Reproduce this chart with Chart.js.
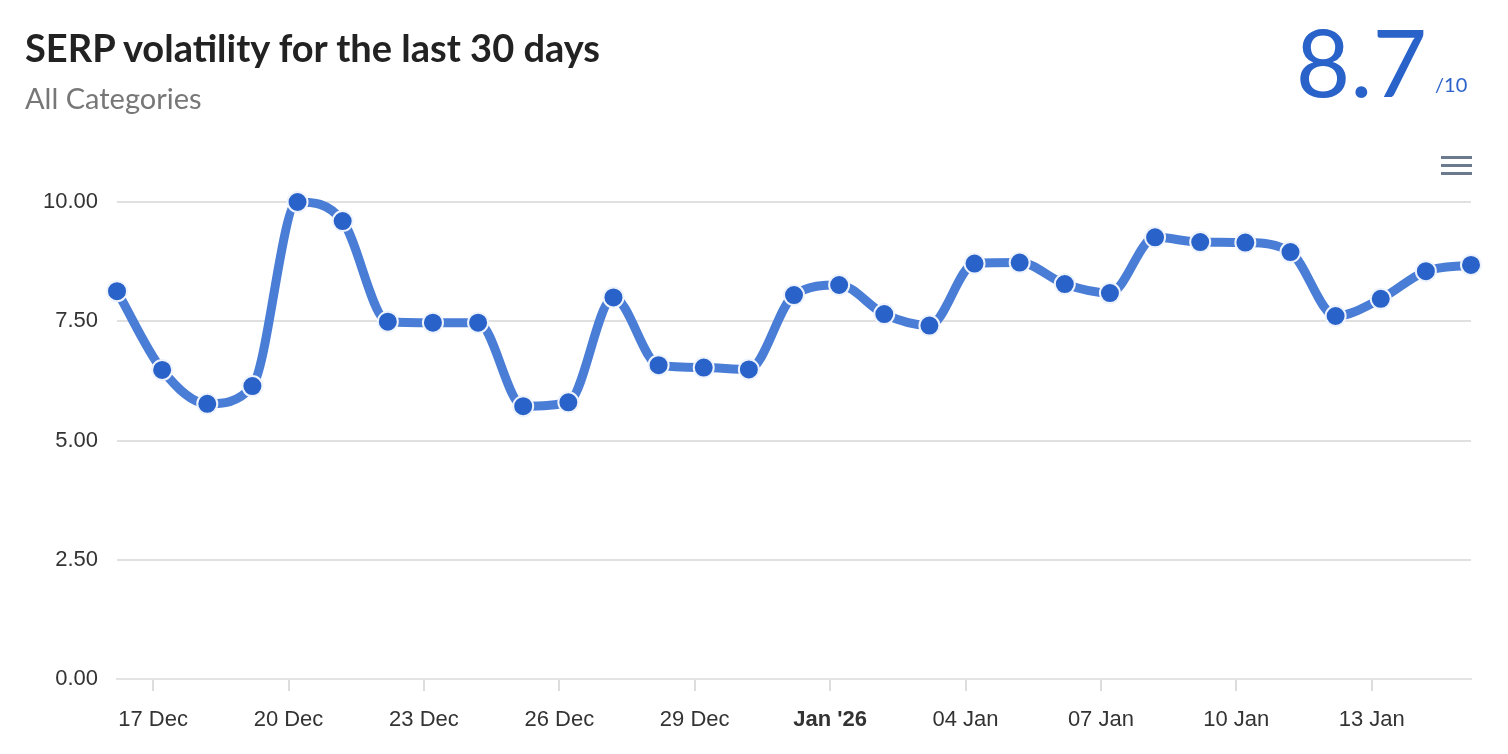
<!DOCTYPE html>
<html>
<head>
<meta charset="utf-8">
<script src="https://cdn.jsdelivr.net/npm/chart.js@4"></script>
<style>
  html, body { margin:0; padding:0; background:#fff; width:1508px; height:754px; overflow:hidden; }
  #wrap { position:relative; width:1508px; height:754px; }
  canvas { position:absolute; left:0; top:0; }
  .title { position:absolute; left:25px; top:28px; font-family:Lato, "Open Sans", sans-serif; font-weight:700; font-size:38px; color:#222; line-height:1; white-space:nowrap; }
  .sub { position:absolute; left:25px; top:83px; font-family:Lato, "Open Sans", sans-serif; font-weight:400; font-size:29px; color:#777; line-height:1; white-space:nowrap; }
  .score { position:absolute; right:81px; top:14px; font-family:Lato, "Open Sans", sans-serif; font-weight:400; font-size:94px; color:#2962c9; line-height:1; }
  .of { position:absolute; left:1435px; top:74px; font-family:Lato, "Open Sans", sans-serif; font-weight:400; font-size:20px; color:#2962c9; line-height:1; }
  .menu { position:absolute; left:1441px; width:31px; height:3px; background:#6b7a8f; }
</style>
</head>
<body>
<div id="wrap">
  <canvas id="c" width="1508" height="754"></canvas>
  <div class="title">SERP volatility for the last 30 days</div>
  <div class="sub">All Categories</div>
  <div class="score">8.7</div>
  <div class="of">/10</div>
  <div class="menu" style="top:156px"></div>
  <div class="menu" style="top:164px"></div>
  <div class="menu" style="top:172px"></div>
</div>
<script>
// Data
const categories = ['16 Dec','17 Dec','18 Dec','19 Dec','20 Dec','21 Dec','22 Dec','23 Dec','24 Dec','25 Dec','26 Dec','27 Dec','28 Dec','29 Dec','30 Dec','31 Dec','01 Jan','02 Jan','03 Jan','04 Jan','05 Jan','06 Jan','07 Jan','08 Jan','09 Jan','10 Jan','11 Jan','12 Jan','13 Jan','14 Jan','15 Jan'];
const volatility = [8.13,6.48,5.77,6.14,10.0,9.60,7.49,7.47,7.47,5.72,5.80,8.00,6.58,6.53,6.49,8.05,8.26,7.65,7.41,8.71,8.73,8.28,8.09,9.26,9.16,9.15,8.95,7.61,7.97,8.55,8.68];
const tickDays = [1,4,7,10,13,16,19,22,25,28];
const tickLabels = ['17 Dec','20 Dec','23 Dec','26 Dec','29 Dec',"Jan '26",'04 Jan','07 Jan','10 Jan','13 Jan'];
const boldTick = 16;
const yTicks = [0,2.5,5,7.5,10];
const pointTimeOffset = 0.2; // measurements taken ~0.2 day after midnight

const points = categories.map((c,i) => ({ x: i + pointTimeOffset, y: volatility[i] }));
const font = 'Liberation Sans, Arial, Helvetica, sans-serif';

new Chart(document.getElementById('c'), {
  type: 'line',
  data: {
    datasets: [{
      data: points,
      borderColor: '#4a7dd6',
      borderWidth: 9,
      cubicInterpolationMode: 'monotone',
      pointRadius: 10,
      pointHoverRadius: 10,
      pointBackgroundColor: '#2962c9',
      pointBorderColor: '#eef3fc',
      pointBorderWidth: 2,
      clip: false
    }]
  },
  options: {
    responsive: false,
    animation: false,
    events: [],
    layout: { padding: { top: 202, right: 37, left: 0, bottom: 0 } },
    plugins: { legend: { display: false }, tooltip: { enabled: false } },
    scales: {
      x: {
        type: 'linear',
        min: pointTimeOffset,
        max: categories.length - 1 + pointTimeOffset,
        afterBuildTicks: s => { s.ticks = tickDays.map(v => ({ value: v })); },
        afterFit: s => { s.height = 75; },
        grid: { drawOnChartArea: false, drawTicks: true, tickLength: 12, color: '#dddddd', lineWidth: 2 },
        border: { display: true, color: '#e3e3e3', width: 2 },
        ticks: {
          autoSkip: false,
          maxRotation: 0,
          padding: 16,
          color: '#333',
          font: ctx => ({ family: font, size: 22, weight: (ctx.tick && ctx.tick.value === boldTick) ? 'bold' : 'normal' }),
          callback: v => { const k = tickDays.indexOf(v); return k >= 0 ? tickLabels[k] : ''; }
        }
      },
      y: {
        min: 0,
        max: 10,
        afterBuildTicks: s => { s.ticks = yTicks.map(v => ({ value: v })); },
        afterFit: s => { s.width = 117; },
        grid: { drawTicks: false, color: ctx => ctx.tick && ctx.tick.value === 0 ? 'rgba(0,0,0,0)' : '#e0e0e0', lineWidth: 2 },
        border: { display: false },
        ticks: {
          padding: 19,
          color: '#333',
          font: { family: font, size: 22 },
          callback: v => Number(v).toFixed(2)
        }
      }
    }
  }
});
</script>
</body>
</html>
